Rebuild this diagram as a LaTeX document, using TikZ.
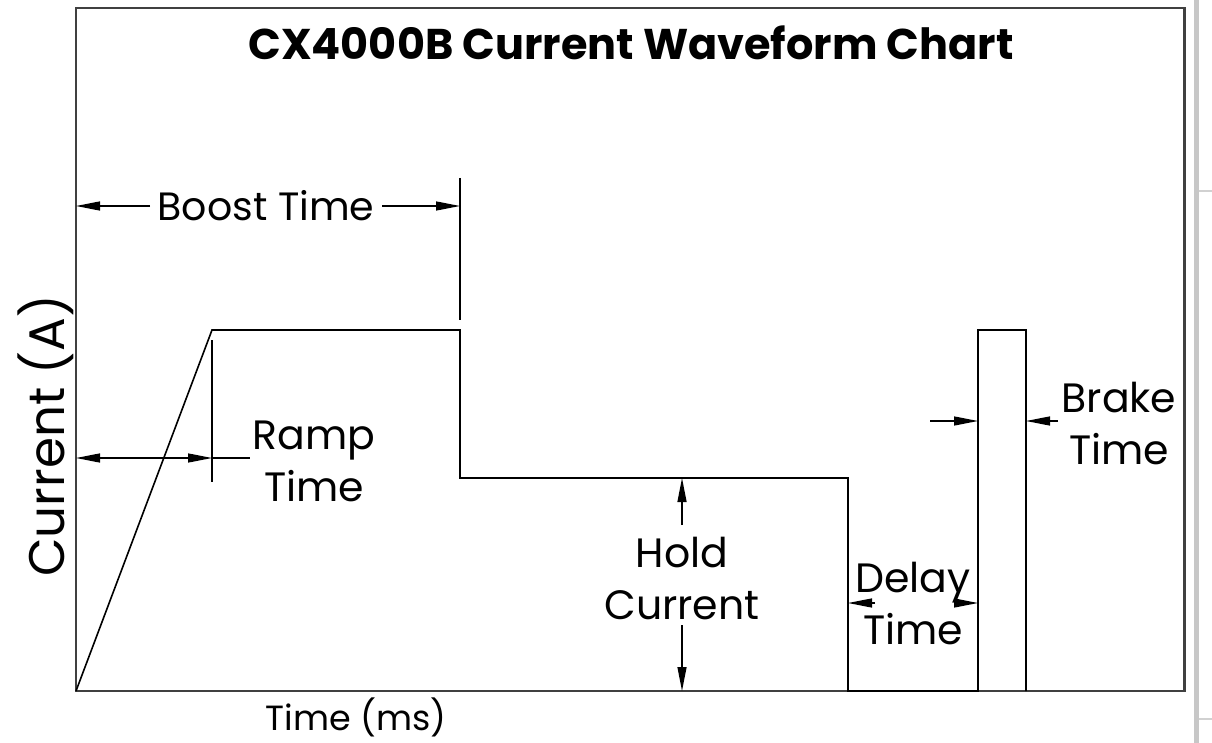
\documentclass[tikz,border=0pt]{standalone}
\usepackage{fontspec}
\setmainfont{Poppins}
\usetikzlibrary{arrows.meta}
\tikzset{
  wave/.style={line width=1.6pt, black},
  dim/.style={line width=1.3pt, black},
  dimarrow/.style={dim, -{Triangle[length=24pt,width=9pt]}},
  lbl/.style={font=\fontsize{41}{52}\selectfont, inner sep=0pt, align=center},
  frame/.style={line width=2.2pt, draw=black!75},
  edgebar/.style={fill=black!22, draw=none},
  edgeline/.style={line width=1.5pt, draw=black!18}
}
\begin{document}
\begin{tikzpicture}[x=1pt,y=-1pt]
\useasboundingbox (0,0) rectangle (1212,743);
\fill[white] (0,0) rectangle (1212,743);
% right side decoration
\fill[edgebar] (1194,0) rectangle (1199,743);
\draw[edgeline] (1199,191) -- (1212,191);
\draw[edgeline] (1199,719) -- (1212,719);
% frame
\draw[frame] (76,8) rectangle (1184.5,691);
% waveform points
\coordinate (o) at (76,691);
\coordinate (r) at (212,330);
\coordinate (b) at (460,330);
\coordinate (bd) at (460,478);
\coordinate (h) at (848,478);
\coordinate (hd) at (848,691);
\coordinate (k) at (978,691);
\coordinate (ku) at (978,330);
\coordinate (ke) at (1026,330);
\coordinate (kd) at (1026,691);
\draw[wave] (o) -- (r) -- (b) -- (bd) -- (h) -- (hd) -- (k) -- (ku) -- (ke) -- (kd);
% title and axis labels
\node[font=\fontsize{43}{46}\selectfont\bfseries, inner sep=0pt] (title) at (631,43) {CX4000B Current Waveform Chart};
\node[font=\fontsize{50}{54}\selectfont, inner sep=0pt, rotate=90] (ylab) at (46,436) {Current (A)};
\node[font=\fontsize{35}{40}\selectfont, inner sep=0pt] (xlab) at (356,717) {Time (ms)};
% Boost time
\coordinate (bx1) at (460,178);
\coordinate (bx2) at (460,320);
\draw[dim] (bx1) -- (bx2);
\node[lbl, font=\fontsize{39.5}{50}\selectfont] (boost) at (266,206) {Boost Time};
\coordinate (bl) at (150,206);
\coordinate (br) at (382,206);
\coordinate (bL) at (76,206);
\coordinate (bR) at (460,206);
\draw[dimarrow] (bl) -- (bL);
\draw[dimarrow] (br) -- (bR);
% Ramp time
\coordinate (rx1) at (212,340);
\coordinate (rx2) at (212,482);
\draw[dim] (rx1) -- (rx2);
\coordinate (rm) at (144,458);
\coordinate (rL) at (76,458);
\coordinate (rR) at (212,458);
\coordinate (rE) at (250,458);
\draw[dimarrow] (rm) -- (rL);
\draw[dimarrow] (rm) -- (rR);
\draw[dim] (rR) -- (rE);
\node[lbl] (ramp) at (314,461) {Ramp\\Time};
% Hold current
\node[lbl] (hold) at (682,579) {Hold\\Current};
\coordinate (hu1) at (682,525);
\coordinate (hu2) at (682,478);
\coordinate (hl1) at (682,625);
\coordinate (hl2) at (682,691);
\draw[dimarrow] (hu1) -- (hu2);
\draw[dimarrow] (hl1) -- (hl2);
% Delay time
\node[lbl] (delay) at (913,604) {Delay\\Time};
\coordinate (dl1) at (875,603);
\coordinate (dl2) at (848,603);
\coordinate (dr1) at (955,603);
\coordinate (dr2) at (978,603);
\draw[dimarrow] (dl1) -- (dl2);
\draw[dimarrow] (dr1) -- (dr2);
% Brake time
\node[lbl] (brake) at (1119,424) {Brake\\Time};
\coordinate (kl1) at (930,421);
\coordinate (kl2) at (978,421);
\coordinate (kr1) at (1058,421);
\coordinate (kr2) at (1026,421);
\draw[dimarrow] (kl1) -- (kl2);
\draw[dimarrow] (kr1) -- (kr2);
\end{tikzpicture}
\end{document}
